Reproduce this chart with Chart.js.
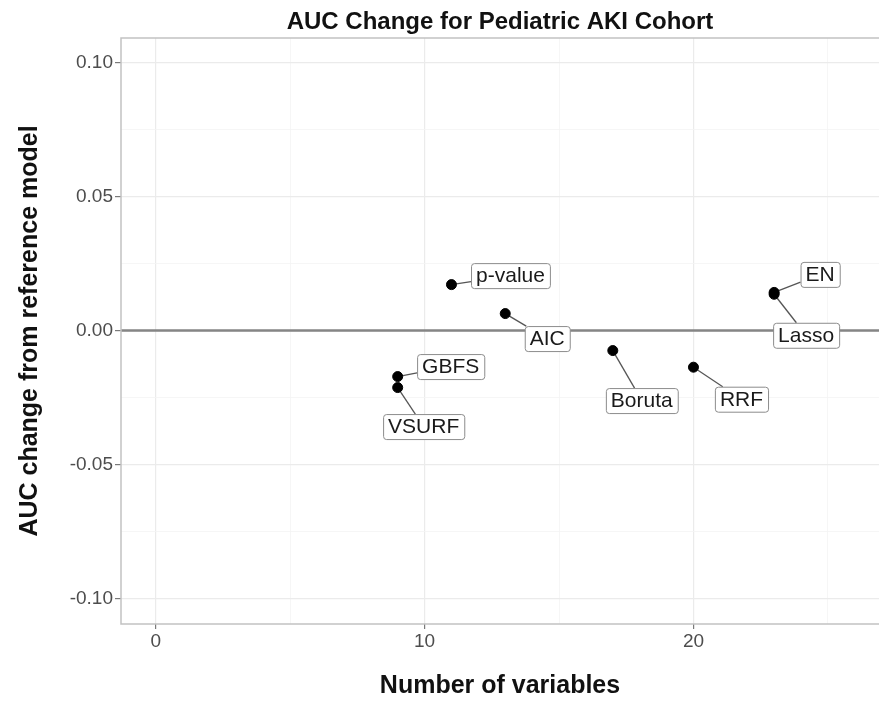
<!DOCTYPE html>
<html>
<head>
<meta charset="utf-8">
<script src="https://cdn.jsdelivr.net/npm/chart.js@4"></script>
<style>
  body { margin: 0; background: #fff; overflow: hidden; }
  canvas { display: block; }
</style>
</head>
<body>
<canvas id="auc_chart" width="879" height="704"></canvas>
<script>
// values
const methods = ["p-value", "AIC", "GBFS", "VSURF", "Boruta", "RRF", "EN", "Lasso"];
const numVariables = [11, 13, 9, 9, 17, 20, 23, 23];
const aucChange = [0.0171, 0.0063, -0.0172, -0.0213, -0.0075, -0.0137, 0.0142, 0.0135];

const xMajorTicks = [0, 10, 20];
const xMinorTicks = [5, 15, 25];
const yMajorTicks = [-0.1, -0.05, 0, 0.05, 0.1];
const yMinorTicks = [-0.075, -0.025, 0.025, 0.075];

// where each label box sits relative to its point (px), like ggrepel put them
const labelOffsets = [
  [59, -9], [42, 25], [53, -10], [26, 39],
  [29, 50], [48, 32], [46, -18], [32, 41],
];

const FONT = '"Liberation Sans", Arial, Helvetica, sans-serif';

const points = numVariables.map((x, i) => ({ x: x, y: aucChange[i] }));

function buildTicks(major, minor) {
  return major
    .map((v) => ({ value: v, major: true }))
    .concat(minor.map((v) => ({ value: v, major: false })));
}

// panel border + zero line + label segments
const panelPlugin = {
  id: "panel",
  beforeDatasetsDraw(chart) {
    const { ctx, chartArea, scales } = chart;
    ctx.save();
    const y0 = scales.y.getPixelForValue(0);
    ctx.strokeStyle = "#858585";
    ctx.lineWidth = 2.4;
    ctx.beginPath();
    ctx.moveTo(chartArea.left, y0);
    ctx.lineTo(chartArea.right, y0);
    ctx.stroke();

    ctx.strokeStyle = "#c2c2c2";
    ctx.lineWidth = 1.5;
    ctx.beginPath();
    ctx.moveTo(chartArea.right, chartArea.top);
    ctx.lineTo(chartArea.left, chartArea.top);
    ctx.lineTo(chartArea.left, chartArea.bottom);
    ctx.lineTo(chartArea.right, chartArea.bottom);
    ctx.stroke();

    // connector segments, drawn under the points
    ctx.font = "21px " + FONT;
    const meta = chart.getDatasetMeta(0);
    ctx.strokeStyle = "#555";
    ctx.lineWidth = 1.3;
    meta.data.forEach((pt, i) => {
      const box = labelBox(ctx, pt, i);
      const dx = box.cx - pt.x;
      const dy = box.cy - pt.y;
      const tx = dx !== 0 ? box.w / 2 / Math.abs(dx) : Infinity;
      const ty = dy !== 0 ? box.h / 2 / Math.abs(dy) : Infinity;
      const t = Math.min(tx, ty, 1);
      ctx.beginPath();
      ctx.moveTo(pt.x, pt.y);
      ctx.lineTo(box.cx - dx * t, box.cy - dy * t);
      ctx.stroke();
    });
    ctx.restore();
  },
  afterDatasetsDraw(chart) {
    const { ctx } = chart;
    const meta = chart.getDatasetMeta(0);
    ctx.save();
    ctx.font = "21px " + FONT;
    meta.data.forEach((pt, i) => {
      const box = labelBox(ctx, pt, i);
      const x0 = box.cx - box.w / 2;
      const y0 = box.cy - box.h / 2;
      ctx.fillStyle = "#fff";
      ctx.strokeStyle = "#8c8c8c";
      ctx.lineWidth = 1;
      ctx.beginPath();
      ctx.roundRect(x0 + 0.5, y0 + 0.5, box.w, box.h, 3);
      ctx.fill();
      ctx.stroke();
      ctx.fillStyle = "#1a1a1a";
      ctx.textAlign = "center";
      ctx.textBaseline = "middle";
      ctx.fillText(methods[i], box.cx, box.cy + 1);
    });
    ctx.restore();
  },
};

function labelBox(ctx, pt, i) {
  const w = ctx.measureText(methods[i]).width + 10;
  return { cx: pt.x + labelOffsets[i][0], cy: pt.y + labelOffsets[i][1], w: w, h: 25 };
}

const ctx = document.getElementById("auc_chart").getContext("2d");
new Chart(ctx, {
  type: "scatter",
  data: {
    datasets: [
      {
        label: "AUC change",
        data: points,
        backgroundColor: "#000",
        borderColor: "#000",
        pointRadius: 5,
        pointHoverRadius: 5,
      },
    ],
  },
  options: {
    responsive: false,
    animation: false,
    layout: { padding: 0, autoPadding: false },
    plugins: {
      legend: { display: false },
      tooltip: { enabled: false },
      title: {
        display: true,
        fullSize: false,
        text: "AUC Change for Pediatric AKI Cohort",
        color: "#111",
        font: { family: FONT, size: 24, weight: "bold" },
        padding: { top: 8, bottom: 1.2 },
      },
    },
    scales: {
      x: {
        type: "linear",
        min: -1.29,
        max: 26.9,
        afterFit: (scale) => {
          scale.height = 80;
        },
        afterBuildTicks: (scale) => {
          scale.ticks = buildTicks(xMajorTicks, xMinorTicks);
        },
        ticks: {
          color: "#4d4d4d",
          font: { family: FONT, size: 19 },
          padding: 1,
          autoSkip: false,
          maxRotation: 0,
          callback: (v, i, ticks) => (ticks[i].major ? String(v) : ""),
        },
        grid: {
          color: (c) => (c.tick && c.tick.major ? "#ebebeb" : "#f4f4f4"),
          lineWidth: (c) => (c.tick && c.tick.major ? 1.2 : 0.8),
          tickColor: (c) => (c.tick && c.tick.major ? "#7a7a7a" : "rgba(0,0,0,0)"),
          tickLength: 5,
        },
        border: { display: false },
        title: {
          display: true,
          text: "Number of variables",
          color: "#111",
          font: { family: FONT, size: 25, weight: "bold" },
          padding: { top: 0, bottom: 3 },
        },
      },
      y: {
        type: "linear",
        min: -0.1095,
        max: 0.1091,
        afterFit: (scale) => {
          scale.width = 121;
        },
        afterBuildTicks: (scale) => {
          scale.ticks = buildTicks(yMajorTicks, yMinorTicks);
        },
        ticks: {
          color: "#4d4d4d",
          font: { family: FONT, size: 19 },
          padding: 2,
          autoSkip: false,
          callback: (v, i, ticks) => (ticks[i].major ? v.toFixed(2) : ""),
        },
        grid: {
          color: (c) => (c.tick && c.tick.major ? "#ebebeb" : "#f4f4f4"),
          lineWidth: (c) => (c.tick && c.tick.major ? 1.2 : 0.8),
          tickColor: (c) => (c.tick && c.tick.major ? "#7a7a7a" : "rgba(0,0,0,0)"),
          tickLength: 6,
        },
        border: { display: false },
        title: {
          display: true,
          text: "AUC change from reference model",
          color: "#111",
          font: { family: FONT, size: 25, weight: "bold" },
          padding: { top: 15, bottom: 0 },
        },
      },
    },
  },
  plugins: [panelPlugin],
});
</script>
</body>
</html>
